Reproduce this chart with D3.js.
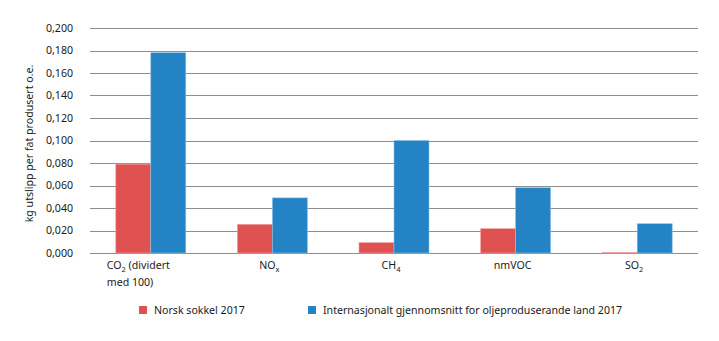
<!DOCTYPE html>
<html><head><meta charset="utf-8">
<script src="https://cdn.jsdelivr.net/npm/d3@7"></script>
<style>body{margin:0;background:#fff}svg text{font-family:"Noto Sans",sans-serif;fill:#1a1a1a}</style>
</head><body><svg id="c" width="719" height="341"></svg>
<script>
const categories = ["CO2", "NOx", "CH4", "nmVOC", "SO2"];
const seriesNames = ["Norsk sokkel 2017", "Internasjonalt gjennomsnitt for oljeproduserande land 2017"];
const norsk = [0.079, 0.0255, 0.0092, 0.0216, 0.0003];
const internasjonalt = [0.178, 0.049, 0.100, 0.058, 0.026];
const yTicks = [0, 0.02, 0.04, 0.06, 0.08, 0.10, 0.12, 0.14, 0.16, 0.18, 0.20];
const yTitle = "kg utslipp per fat produsert o.e.";
// category labels: [main, subscript, rest] per line
const catLabels = [
  [[["CO","2"," (dividert"]], [["med 100)","",""]]],
  [[["NO","x",""]]],
  [[["CH","4",""]]],
  [[["nmVOC","",""]]],
  [[["SO","2",""]]]
];
const colors = ["#e05252", "#2383c4"];

const svg = d3.select("#c");
const L = 90, R = 698, T = 28, B = 253;
const FS = 10.6;
const x0 = d3.scaleBand().domain(categories).range([L, R]).padding(0);
const bw = 35;
const y = d3.scaleLinear().domain([0, 0.2]).range([B, T]);

// gridlines
svg.append("g").selectAll("line").data(yTicks).join("line")
  .attr("x1", L).attr("x2", R)
  .attr("y1", d => Math.round(y(d)) + 0.5).attr("y2", d => Math.round(y(d)) + 0.5)
  .attr("stroke", "#8e8e8e").attr("stroke-width", 1);

// y tick labels
const fmt = d => d3.format(".3f")(d).replace(".", ",");
svg.append("g").selectAll("text").data(yTicks).join("text")
  .attr("x", 73).attr("y", d => y(d)).attr("dy", "0.35em")
  .attr("text-anchor", "end").attr("font-size", FS).text(fmt);

// y title
svg.append("text").attr("transform", `translate(33,${(T + B) / 2 + 3}) rotate(-90)`)
  .attr("text-anchor", "middle").attr("font-size", FS).text(yTitle);

// bars
const series = [norsk, internasjonalt];
series.forEach((vals, si) => {
  svg.append("g").selectAll("rect").data(categories).join("rect")
    .attr("x", (c) => x0(c) + x0.bandwidth() / 2 - bw + si * bw)
    .attr("width", bw)
    .attr("y", (c, i) => y(vals[i]))
    .attr("height", (c, i) => y(0) - y(vals[i]))
    .attr("fill", colors[si])
    .attr("stroke", si === 0 ? "#f0a0a0" : "#8cc0e4").attr("stroke-width", 0.6);
});

// x labels
catLabels.forEach((lines, i) => {
  const cx = x0(categories[i]) + x0.bandwidth() / 2;
  const multi = lines.length > 1;
  lines.forEach((line, li) => {
    const t = svg.append("text").attr("font-size", FS)
      .attr("y", 269 + li * 17)
      .attr("x", multi ? cx - 44 : cx - 3)
      .attr("text-anchor", multi ? "start" : "middle");
    line.forEach(parts => {
      t.append("tspan").text(parts[0]);
      if (parts[1]) t.append("tspan").attr("font-size", 7.5).attr("dy", 2.5).text(parts[1]);
      if (parts[2]) t.append("tspan").attr("dy", parts[1] ? -2.5 : 0).text(parts[2]);
    });
  });
});

// legend
const legX = [139, 308];
seriesNames.forEach((n, i) => {
  svg.append("rect").attr("x", legX[i]).attr("y", 306).attr("width", 8).attr("height", 8).attr("fill", colors[i]);
  svg.append("text").attr("x", legX[i] + 15).attr("y", 314).attr("font-size", FS).text(n);
});
</script></body></html>
